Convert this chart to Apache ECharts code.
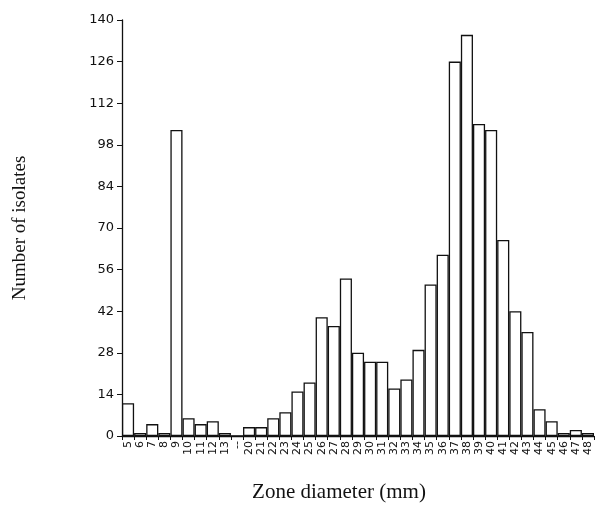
<!DOCTYPE html>
<html>
<head>
<meta charset="utf-8">
<script src="https://cdn.jsdelivr.net/npm/echarts@6/dist/echarts.min.js"></script>
<style>
  html, body { margin: 0; padding: 0; background: #fff; }
  #chart { width: 604px; height: 511px; }
</style>
</head>
<body>
<div id="chart"></div>
<script>
// zone diameters (mm); "--" marks the break between 13 and 20
const zones = ["5", "6", "7", "8", "9", "10", "11", "12", "13", "--",
  "20", "21", "22", "23", "24", "25", "26", "27", "28", "29", "30",
  "31", "32", "33", "34", "35", "36", "37", "38", "39", "40",
  "41", "42", "43", "44", "45", "46", "47", "48"];

const isolates = [11, 1, 4, 1, 103, 6, 4, 5, 1, 0,
  3, 3, 6, 8, 15, 18, 40, 37, 53, 28, 25,
  25, 16, 19, 29, 51, 61, 126, 135, 105, 103,
  66, 42, 35, 9, 5, 1, 2, 1];

const yTicks = [0, 14, 28, 42, 56, 70, 84, 98, 112, 126, 140];

const chart = echarts.init(document.getElementById("chart"));

const option = {
  animation: false,
  backgroundColor: "#fff",
  grid: { left: 122, right: 10, top: 20, bottom: 75, outerBoundsMode: "none" },
  xAxis: {
    type: "category",
    data: zones,
    name: "Zone diameter (mm)",
    nameLocation: "middle",
    nameGap: 46,
    nameTextStyle: {
      fontFamily: "Liberation Serif",
      fontSize: 21,
      color: "#111",
      padding: [0, 38, 0, 0],
    },
    axisLine: { lineStyle: { color: "#111", width: 1.3 } },
    axisTick: { show: true, length: 4, lineStyle: { color: "#111" } },
    axisLabel: {
      rotate: 90,
      interval: 0,
      margin: 5,
      fontFamily: "DejaVu Sans",
      fontSize: 11,
      color: "#111",
    },
  },
  yAxis: {
    type: "value",
    min: 0,
    max: 140,
    interval: 14,
    name: "Number of isolates",
    nameLocation: "middle",
    nameGap: 92,
    nameTextStyle: { fontFamily: "Liberation Serif", fontSize: 19, color: "#111" },
    axisLine: { show: true, lineStyle: { color: "#111", width: 1.3 } },
    axisTick: { show: true, length: 5, lineStyle: { color: "#111" } },
    splitLine: { show: false },
    axisLabel: {
      margin: 8,
      fontFamily: "DejaVu Sans",
      fontSize: 13,
      color: "#111",
      formatter: (v) => (yTicks.includes(v) ? String(v) : ""),
    },
  },
  series: [
    {
      type: "bar",
      data: isolates,
      barCategoryGap: 0,
      itemStyle: { color: "#fff", borderColor: "#111", borderWidth: 1.3 },
    },
  ],
};

chart.setOption(option);
</script>
</body>
</html>
